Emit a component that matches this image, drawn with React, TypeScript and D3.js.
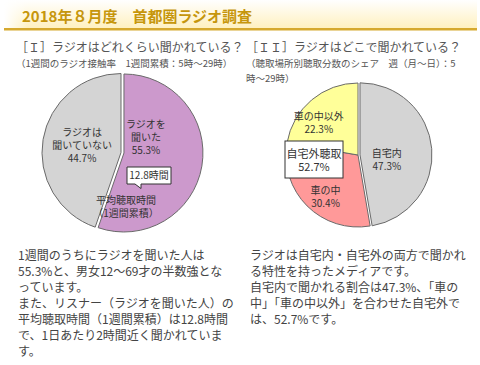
import React from 'react';
import * as d3 from 'd3';

// chart data
const title = '2018年８月度　首都圏ラジオ調査';

const leftHeading = '［Ｉ］ラジオはどれくらい聞かれている？';
const leftNote = ['（1週間のラジオ接触率　1週間累積：5時～29時）'];
const listenLabels = [['ラジオを', '聞いた'], ['ラジオは', '聞いていない']];
const listenValues = [55.3, 44.7];
const listenColors = ['#cc99cc', '#d4d4d4'];
const avgHours = '12.8時間';
const avgLabel = ['平均聴取時間', '（1週間累積）'];

const rightHeading = '［ＩＩ］ラジオはどこで聞かれている？';
const rightNote = ['（聴取場所別聴取分数のシェア　週（月～日）：5', '時～29時）'];
const placeLabels = [['自宅内'], ['車の中'], ['車の中以外']];
const placeValues = [47.3, 30.4, 22.3];
const placeColors = ['#d4d4d4', '#ff9999', '#ffff99'];
const outsideLabel = ['自宅外聴取', '52.7%'];

const leftText = [
  '1週間のうちにラジオを聞いた人は',
  '55.3%と、男女12～69才の半数強とな',
  'っています。',
  'また、リスナー（ラジオを聞いた人）の',
  '平均聴取時間（1週間累積）は12.8時間',
  'で、1日あたり2時間近く聞かれていま',
  'す。',
];
const rightText = [
  'ラジオは自宅内・自宅外の両方で聞かれ',
  'る特性を持ったメディアです。',
  '自宅内で聞かれる割合は47.3%、「車の',
  '中」「車の中以外」を合わせた自宅外で',
  'は、52.7%です。',
];

const W = 480;
const H = 365;
const FONT = '"Noto Sans CJK JP", "Noto Sans", sans-serif';
const LH = 13; // label line height

type PieProps = {
  cx: number;
  cy: number;
  r: number;
  values: number[];
  labels: string[][];
  colors: string[];
  explode: number[];
  labelShift: number[][];
};

function Pie({ cx, cy, r, values, labels, colors, explode, labelShift }: PieProps) {
  const pie = d3.pie<number>().sort(null).value((d) => d);
  const arcs = pie(values);
  const arc = d3.arc<d3.PieArcDatum<number>>().innerRadius(0).outerRadius(r);
  const labelArc = d3.arc<d3.PieArcDatum<number>>().innerRadius(r * 0.5).outerRadius(r * 0.5);
  return (
    <g transform={`translate(${cx},${cy})`}>
      {arcs.map((a, i) => {
        const mid = (a.startAngle + a.endAngle) / 2;
        const ox = Math.sin(mid) * explode[i];
        const oy = -Math.cos(mid) * explode[i];
        return (
          <path
            key={i}
            d={arc(a) || ''}
            transform={`translate(${ox},${oy})`}
            fill={colors[i]}
            stroke="#6a6a6a"
            strokeWidth={1}
          />
        );
      })}
      {arcs.map((a, i) => {
        const [x, y] = labelArc.centroid(a);
        const lines = [...labels[i], `${d3.format('.1f')(a.data)}%`];
        const tx = x + labelShift[i][0];
        const ty = y + labelShift[i][1] - ((lines.length - 1) * LH) / 2;
        return lines.map((l, j) => (
          <text
            key={`${i}-${j}`}
            x={tx}
            y={ty + j * LH + 3.5}
            textAnchor="middle"
            fontSize={10}
            fill="#333"
          >
            {l}
          </text>
        ));
      })}
    </g>
  );
}

export default function App() {
  const lcx = 121;
  const lcy = 152.5;
  const rcx = 358;
  const rcy = 155;
  return (
    <svg width={W} height={H} style={{ position: 'absolute', left: 0, top: 0, fontFamily: FONT }}>
      <defs>
        <linearGradient id="hdr" x1="0" y1="0" x2="0" y2="1">
          <stop offset="0" stopColor="#ffffff" />
          <stop offset="1" stopColor="#fff1c0" />
        </linearGradient>
        <linearGradient id="hdrx" x1="0" y1="0" x2="1" y2="0">
          <stop offset="0" stopColor="#ffffff" stopOpacity={1} />
          <stop offset="0.05" stopColor="#ffffff" stopOpacity={0} />
        </linearGradient>
      </defs>
      <rect width={W} height={H} fill="#fff" />
      <rect x={4} y={0} width={473} height={28} fill="url(#hdr)" />
      <rect x={4} y={0} width={473} height={28} fill="url(#hdrx)" />
      <rect x={4} y={28} width={473} height={2.5} fill="#d6a92e" />
      <text x={22} y={22} fontSize={15} fontWeight="bold" fill="#c6960c">
        {title}
      </text>

      <text x={16} y={52} fontSize={12} fill="#555">{leftHeading}</text>
      {leftNote.map((t, i) => (
        <text key={i} x={16} y={67 + i * 15} fontSize={9.5} fill="#555">{t}</text>
      ))}
      <text x={246} y={52} fontSize={12} fill="#555">{rightHeading}</text>
      {rightNote.map((t, i) => (
        <text key={i} x={246} y={67 + i * 15} fontSize={9.5} fill="#555">{t}</text>
      ))}

      <Pie
        cx={lcx}
        cy={lcy}
        r={79}
        values={listenValues}
        labels={listenLabels}
        colors={listenColors}
        explode={[3, 0]}
        labelShift={[[-14, -22], [0, 0]]}
      />
      {/* callout */}
      <path
        d={`M${lcx + 6},${lcy + 14.5} H${lcx + 50} V${lcy + 31.5} H${lcx + 20} L${lcx + 20},${lcy + 36} L${lcx + 14},${lcy + 31.5} H${lcx + 6} Z`}
        fill="#fff"
        stroke="#333"
        strokeWidth={1}
      />
      <text x={lcx + 28} y={lcy + 26.5} fontSize={10} fill="#333" textAnchor="middle">
        {avgHours}
      </text>
      {avgLabel.map((t, i) => (
        <text key={i} x={lcx + 5} y={lcy + 51 + i * LH} fontSize={10} fill="#333" textAnchor="middle">
          {t}
        </text>
      ))}

      <Pie
        cx={rcx}
        cy={rcy}
        r={72}
        values={placeValues}
        labels={placeLabels}
        colors={placeColors}
        explode={[2, 0, 0]}
        labelShift={[[-7, 8], [-7, 17], [-16, -4]]}
      />
      <rect x={rcx - 73} y={rcy - 14} width={58} height={37} fill="#fff" stroke="#333" strokeWidth={1} />
      {outsideLabel.map((t, i) => (
        <text key={i} x={rcx - 44} y={rcy + 3 + i * 13} fontSize={11} fill="#333" textAnchor="middle">
          {t}
        </text>
      ))}

      {leftText.map((t, i) => (
        <text key={i} x={18} y={260 + i * 16} fontSize={12} fill="#444">{t}</text>
      ))}
      {rightText.map((t, i) => (
        <text key={i} x={250} y={260 + i * 16} fontSize={12} fill="#444">{t}</text>
      ))}
    </svg>
  );
}
